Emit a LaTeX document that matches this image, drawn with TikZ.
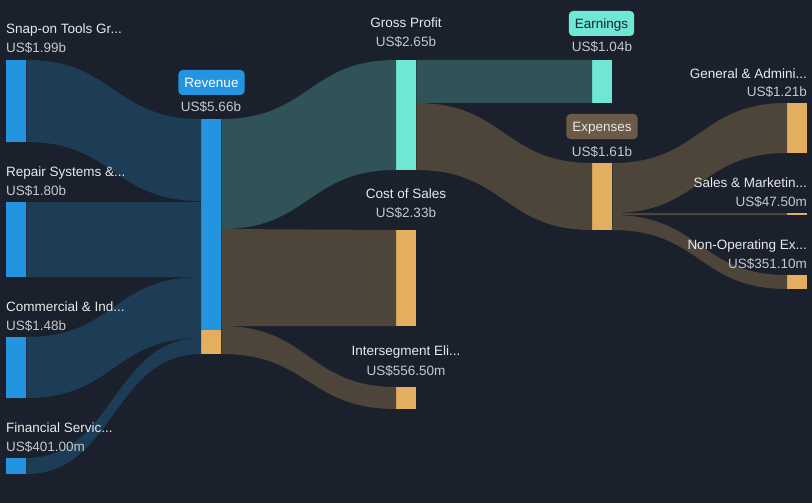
\documentclass[tikz,border=0pt]{standalone}
\usepackage{fontspec}
\setmainfont{Liberation Sans}
\usetikzlibrary{calc}
\definecolor{bgcol}{HTML}{1B212C}
\definecolor{barblue}{HTML}{2394DF}
\definecolor{barteal}{HTML}{6EE8D5}
\definecolor{barorange}{HTML}{E3AE5E}
\definecolor{flowblue}{HTML}{1D3C55}
\definecolor{flowteal}{HTML}{2F5357}
\definecolor{flowbrown}{HTML}{4D4539}
\definecolor{badgebrown}{HTML}{6B5A47}
\definecolor{namecol}{HTML}{E8E9EB}
\definecolor{valcol}{HTML}{C4C7CC}
\tikzset{
	bar/.style = {
		rectangle,
		inner sep=0pt,
		minimum width=20pt,
		anchor=north west
	},
	bar_b/.style = {
		bar,
		fill=barblue,
		minimum height=#1pt
	},
	bar_t/.style = {
		bar,
		fill=barteal,
		minimum height=#1pt
	},
	bar_o/.style = {
		bar,
		fill=barorange,
		minimum height=#1pt
	},
	lbl_n/.style = {
		inner sep=0pt,
		text=namecol,
		font=\fontsize{13.5}{15}\selectfont
	},
	lbl_v/.style = {
		lbl_n,
		text=valcol
	},
	badge/.style = {
		lbl_n,
		rounded corners=4pt,
		minimum height=25pt,
		inner xsep=6pt,
		text height=10pt,
		text depth=0pt,
		anchor=center
	},
}
% band between two bars: colour, source, offset, target, offset, thickness at source, at target
\newcommand{\flowband}[7]{%
	\fill[#1] ($(#2.north east)+(0,#3)$) .. controls +(88,0) and +(-88,0) .. ($(#4.north west)+(0,#5)$)
		-- ++(0,#7) .. controls +(-88,0) and +(88,0) .. ($(#2.north east)+(0,#3+#6)$) -- cycle;%
}
\begin{document}
\begin{tikzpicture}[x=1pt,y=-1pt]
\fill[bgcol] (0,0) rectangle (812,503);
% bars
\node[bar_b=82] (snap) at (6,60) {};
\node[bar_b=75] (repair) at (6,202) {};
\node[bar_b=61] (comm) at (6,337) {};
\node[bar_b=16] (fin) at (6,458) {};
\node[bar_b=211] (rev) at (201,119) {};
\node[bar_o=24] (elim) at (201,330) {};
\node[bar_t=110] (gross) at (396,60) {};
\node[bar_o=96] (cost) at (396,230) {};
\node[bar_o=22] (inter) at (396,387) {};
\node[bar_t=43] (earn) at (592,60) {};
\node[bar_o=67] (exp) at (592,163) {};
\node[bar_o=50] (admin) at (787,103) {};
\node[bar_o=2] (sales) at (787,213) {};
\node[bar_o=14] (nonop) at (787,275) {};
% bands
\flowband{flowblue}{snap}{0}{rev}{0}{82}{82}
\flowband{flowblue}{repair}{0}{rev}{83}{75}{75}
\flowband{flowblue}{comm}{0}{rev}{158}{61}{61}
\flowband{flowblue}{fin}{0}{rev}{219}{16}{16}
\flowband{flowteal}{rev}{0}{gross}{0}{110}{110}
\flowband{flowbrown}{rev}{110}{cost}{0}{97}{96}
\flowband{flowbrown}{elim}{-4}{inter}{0}{28}{22}
\flowband{flowteal}{gross}{0}{earn}{0}{43}{43}
\flowband{flowbrown}{gross}{43}{exp}{0}{67}{67}
\flowband{flowbrown}{exp}{0}{admin}{0}{50}{50}
\flowband{flowbrown}{exp}{50}{sales}{0}{2}{2}
\flowband{flowbrown}{exp}{52}{nonop}{0}{15}{14}
% labels, left column
\node[lbl_n, anchor=base west] (snap_n) at (6,34) {Snap-on Tools Gr...};
\node[lbl_v, anchor=base west] (snap_v) at (6,53) {US\$1.99b};
\node[lbl_n, anchor=base west] (repair_n) at (6,176) {Repair Systems \&...};
\node[lbl_v, anchor=base west] (repair_v) at (6,195) {US\$1.80b};
\node[lbl_n, anchor=base west] (comm_n) at (6,311) {Commercial \& Ind...};
\node[lbl_v, anchor=base west] (comm_v) at (6,330) {US\$1.48b};
\node[lbl_n, anchor=base west] (fin_n) at (6,432) {Financial Servic...};
\node[lbl_v, anchor=base west] (fin_v) at (6,451) {US\$401.00m};
% labels, middle
\node[badge, fill=barblue, text=white] (rev_n) at (211.5,82.5) {Revenue};
\node[lbl_v, anchor=base] (rev_v) at (211,112) {US\$5.66b};
\node[lbl_n, anchor=base] (gross_n) at (406,28) {Gross Profit};
\node[lbl_v, anchor=base] (gross_v) at (406,47) {US\$2.65b};
\node[lbl_n, anchor=base] (cost_n) at (406,198) {Cost of Sales};
\node[lbl_v, anchor=base] (cost_v) at (406,217) {US\$2.33b};
\node[lbl_n, anchor=base] (inter_n) at (406,355) {Intersegment Eli...};
\node[lbl_v, anchor=base] (inter_v) at (406,375) {US\$556.50m};
\node[badge, fill=barteal, text=bgcol] (earn_n) at (601.5,23.5) {Earnings};
\node[lbl_v, anchor=base] (earn_v) at (602,52) {US\$1.04b};
\node[badge, fill=badgebrown] (exp_n) at (602,126.5) {Expenses};
\node[lbl_v, anchor=base] (exp_v) at (602,156) {US\$1.61b};
% labels, right column
\node[lbl_n, anchor=base east] (admin_n) at (807,78) {General \& Admini...};
\node[lbl_v, anchor=base east] (admin_v) at (807,97) {US\$1.21b};
\node[lbl_n, anchor=base east] (sales_n) at (807,187) {Sales \& Marketin...};
\node[lbl_v, anchor=base east] (sales_v) at (807,206) {US\$47.50m};
\node[lbl_n, anchor=base east] (nonop_n) at (807,249) {Non-Operating Ex...};
\node[lbl_v, anchor=base east] (nonop_v) at (807,268) {US\$351.10m};
\end{tikzpicture}
\end{document}
